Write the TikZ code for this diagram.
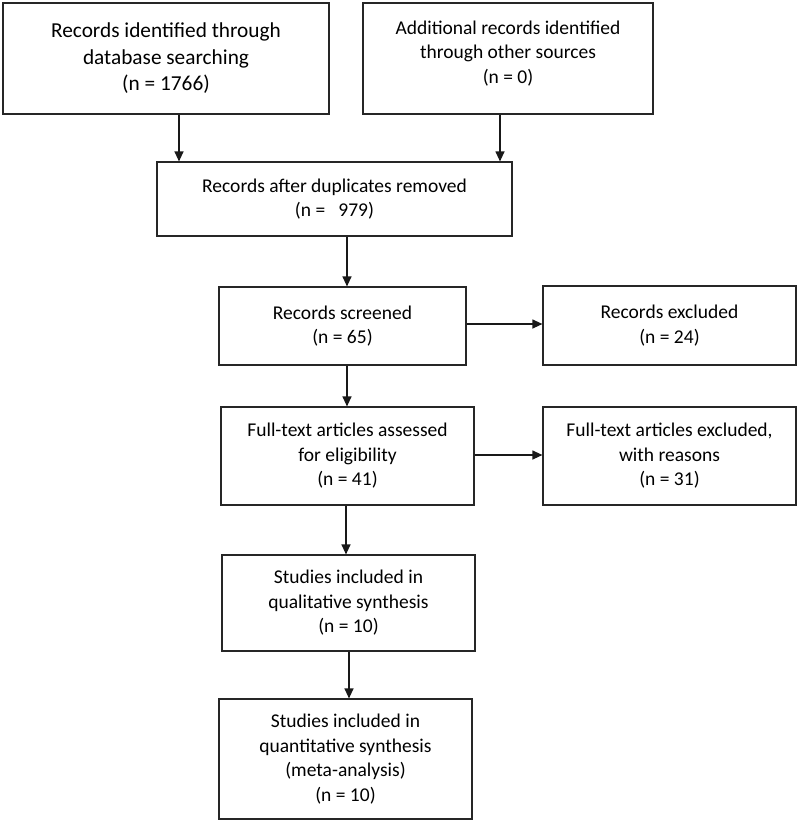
\documentclass[tikz,border=0pt]{standalone}
\usepackage{fontspec}
\setmainfont{Carlito}
\usetikzlibrary{arrows.meta}
\begin{document}
\begin{tikzpicture}[x=1pt,y=-1pt,
  box/.style={draw=black!85, line width=1.2pt, align=center, inner sep=0pt,
    font=\fontsize{19.5}{24.5}\selectfont},
  bigtext/.style={font=\fontsize{21.3}{26.5}\selectfont},
  arr/.style={line width=1.2pt, draw=black!90, -{Triangle[width=9pt,length=10pt]}}]
\useasboundingbox (0,0) rectangle (800,823);
\fill[white] (0,0) rectangle (800,823);

\node[box, bigtext, minimum width=326, minimum height=111] (b1) at (166,58.5)
  {Records identified through\\database searching\\(n = 1766)};
\node[box, minimum width=290, minimum height=111] (b2) at (508,58.5) {};
\node[align=center, inner sep=0pt, font=\fontsize{19.5}{24.5}\selectfont] (b2t) at (508,53.5)
  {Additional records identified\\through other sources\\(n = 0)};
\node[box, minimum width=355, minimum height=74] (b3) at (334.5,199)
  {Records after duplicates removed\\(n = \ \ 979)};
\node[box, minimum width=247, minimum height=78] (b4) at (342.5,326)
  {Records screened\\(n = 65)};
\node[box, minimum width=253, minimum height=79] (b5) at (669.5,325.5)
  {Records excluded\\(n = 24)};
\node[box, minimum width=253, minimum height=98] (b6) at (347.5,456)
  {Full-text articles assessed\\for eligibility\\(n = 41)};
\node[box, minimum width=253, minimum height=98] (b7) at (669.5,456)
  {Full-text articles excluded,\\with reasons\\(n = 31)};
\node[box, minimum width=253, minimum height=96] (b8) at (348.5,603)
  {Studies included in\\qualitative synthesis\\(n = 10)};
\node[box, minimum width=253, minimum height=120] (b9) at (345.5,759)
  {Studies included in\\quantitative synthesis\\(meta-analysis)\\(n = 10)};

\coordinate (x1) at (179,0);
\coordinate (x2) at (500,0);
\coordinate (x3) at (347,0);
\coordinate (x4) at (346,0);
\coordinate (x5) at (349,0);
\coordinate (y1) at (0,324);
\coordinate (y2) at (0,455);

\draw[arr] (b1.south -| x1) -- (b3.north -| x1);
\draw[arr] (b2.south -| x2) -- (b3.north -| x2);
\draw[arr] (b3.south -| x3) -- (b4.north -| x3);
\draw[arr] (b4.east |- y1) -- (b5.west |- y1);
\draw[arr] (b4.south -| x3) -- (b6.north -| x3);
\draw[arr] (b6.east |- y2) -- (b7.west |- y2);
\draw[arr] (b6.south -| x4) -- (b8.north -| x4);
\draw[arr] (b8.south -| x5) -- (b9.north -| x5);
\end{tikzpicture}
\end{document}
